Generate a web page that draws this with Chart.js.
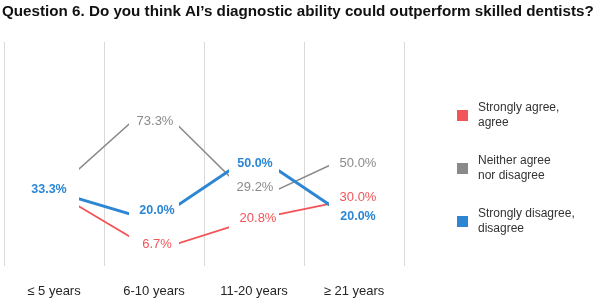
<!DOCTYPE html>
<html>
<head>
<meta charset="utf-8">
<script src="https://cdn.jsdelivr.net/npm/chart.js@4.4.1/dist/chart.umd.min.js"></script>
<style>
  html, body { margin: 0; padding: 0; background: #fff; }
  #wrap { width: 597px; height: 300px; }
</style>
</head>
<body>
<div id="wrap"><canvas id="chart"></canvas></div>
<script>
// Daten
const titel = 'Question 6. Do you think AI\u2019s diagnostic ability could outperform skilled dentists?';
const kategorien = ['\u2264 5 years', '6-10 years', '11-20 years', '\u2265 21 years'];
const zustimmung = [33.3, 6.7, 20.8, 30.0];   // Strongly agree, agree
const neutral = [33.3, 73.3, 29.2, 50.0];     // Neither agree nor disagree
const ablehnung = [33.3, 20.0, 50.0, 20.0];   // Strongly disagree, disagree
const legendeTexte = [
  ['Strongly agree,', 'agree'],
  ['Neither agree', 'nor disagree'],
  ['Strongly disagree,', 'disagree']
];

const ROT = 'rgb(243, 84, 88)';
const GRAU = 'rgb(138, 138, 138)';
const BLAU = 'rgb(44, 134, 212)';

// Lücken in den Linien um jede Kategorie (außen etwas schmaler)
const luecken = {
  id: 'luecken',
  afterDatasetsDraw(chart) {
    const ctx = chart.ctx;
    const xs = chart.scales.x;
    const area = chart.chartArea;
    ctx.save();
    ctx.fillStyle = '#fff';
    kategorien.forEach((k, i) => {
      const x = xs.getPixelForValue(i);
      const links = i === 0 ? 22 : 25;
      const rechts = i === kategorien.length - 1 ? 19 : 25;
      ctx.fillRect(x - links, area.top, links + rechts, area.bottom - area.top);
    });
    ctx.restore();
  }
};

// Werte-Beschriftungen, Titel und Legende
const beschriftung = {
  id: 'beschriftung',
  afterDraw(chart) {
    const ctx = chart.ctx;
    ctx.save();
    ctx.textAlign = 'center';
    ctx.textBaseline = 'middle';
    const sets = chart.data.datasets;
    sets.forEach((ds, di) => {
      const meta = chart.getDatasetMeta(di);
      ds.data.forEach((v, i) => {
        // gleiche Werte von oben liegenden Linien verdecken diese
        const verdeckt = sets.some((o, oi) => oi !== di && o.order < ds.order && o.data[i] === v);
        if (verdeckt) return;
        const p = meta.data[i];
        ctx.fillStyle = ds.borderColor;
        ctx.font = (ds.fett ? 'bold 12.5px' : '13px') + ' "Liberation Sans", Arial, sans-serif';
        ctx.fillText(v.toFixed(1) + '%', p.x + ds.labelDx[i], p.y + ds.labelDy[i]);
      });
    });
    // Titel
    ctx.textAlign = 'left';
    ctx.fillStyle = '#111';
    ctx.font = 'bold 15.2px "Liberation Sans", Arial, sans-serif';
    ctx.fillText(titel, 2, 12);
    // Legende
    ctx.font = '12px "Liberation Sans", Arial, sans-serif';
    sets.forEach((ds, di) => {
      const y = 115 + di * 53;
      ctx.fillStyle = ds.borderColor;
      ctx.fillRect(457, y - 5, 11, 11);
      ctx.fillStyle = '#333';
      legendeTexte[di].forEach((zeile, z) => {
        ctx.fillText(zeile, 478, y - 7 + z * 15);
      });
    });
    ctx.restore();
  }
};

new Chart(document.getElementById('chart'), {
  type: 'line',
  data: {
    labels: kategorien,
    datasets: [
      { label: 'Strongly agree, agree', data: zustimmung, borderColor: ROT, borderWidth: 1.8, order: 2,
        labelDx: [0, 3, 4, 4], labelDy: [0, -7, -1, -1] },
      { label: 'Neither agree nor disagree', data: neutral, borderColor: GRAU, borderWidth: 1.5, order: 1,
        labelDx: [0, 1, 1, 4], labelDy: [0, 20, -13, 9] },
      { label: 'Strongly disagree, disagree', data: ablehnung, borderColor: BLAU, borderWidth: 3, order: 0, fett: true,
        labelDx: [-5, 3, 1, 4], labelDy: [-2, -11, 10, -5] }
    ]
  },
  options: {
    responsive: true,
    maintainAspectRatio: false,
    animation: false,
    layout: { padding: { top: 42, left: 4, right: 193, bottom: 0 } },
    elements: { point: { radius: 0, hoverRadius: 0 }, line: { tension: 0 } },
    plugins: { legend: { display: false }, tooltip: { enabled: false } },
    scales: {
      x: {
        offset: true,
        afterFit(scale) { scale.height = 34; },
        grid: { offset: true, color: '#d9d9d9', lineWidth: 1, drawTicks: false },
        border: { display: false },
        ticks: { color: '#262626', padding: 18, font: { size: 13, family: '"Liberation Sans", Arial, sans-serif' } }
      },
      y: { display: false, min: 0, max: 100 }
    }
  },
  plugins: [luecken, beschriftung]
});
</script>
</body>
</html>
